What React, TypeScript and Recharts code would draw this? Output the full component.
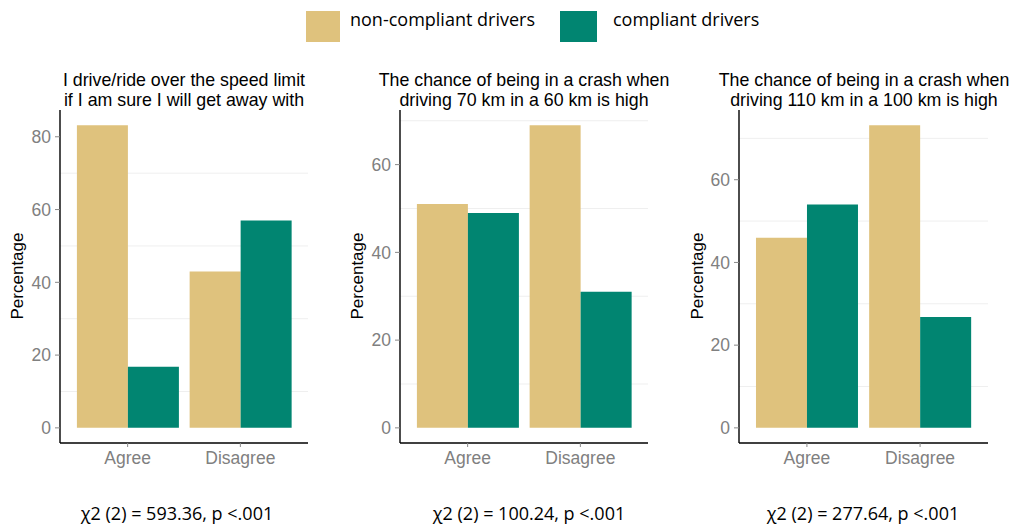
import React from 'react';
import { BarChart, Bar, XAxis, YAxis, CartesianGrid } from 'recharts';

const categories = ['Agree', 'Disagree'];

const speedLimitNonCompliant = [83.2, 43.0];
const speedLimitCompliant = [16.8, 57.0];

const crash70NonCompliant = [51.0, 69.0];
const crash70Compliant = [49.0, 31.0];

const crash110NonCompliant = [46.0, 73.2];
const crash110Compliant = [54.0, 26.8];

const yTicks1 = [0, 20, 40, 60, 80];
const yTicks2 = [0, 20, 40, 60];
const yTicks3 = [0, 20, 40, 60];
const gridValues = [10, 30, 50, 70];

const titles1 = ['I drive/ride over the speed limit', 'if I am sure I will get away with'];
const titles2 = ['The chance of being in a crash when', 'driving 70 km in a 60 km is high'];
const titles3 = ['The chance of being in a crash when', 'driving 110 km in a 100 km is high'];

const chiLabels = ['χ2 (2) = 593.36, p <.001', 'χ2 (2) = 100.24, p <.001', 'χ2 (2) = 277.64, p <.001'];

const legendLabels = ['non-compliant drivers', 'compliant drivers'];

const TAN = '#DFC27D';
const TEAL = '#018571';

const buildRows = (non: number[], comp: number[]) =>
  categories.map((category, i) => ({ category, non: non[i], comp: comp[i] }));

interface PanelProps {
  rows: { category: string; non: number; comp: number }[];
  ticks: number[];
  axisX: number;
  plotRight: number;
}

const Panel: React.FC<PanelProps> = ({ rows, ticks, axisX, plotRight }) => {
  const maxVal = Math.max(...rows.map((r) => Math.max(r.non, r.comp)));
  const domain = [-0.05 * maxVal, 1.05 * maxVal];
  const plotWidth = plotRight - axisX;
  const pad = plotWidth / 22;
  return (
    <div style={{ position: 'absolute', left: axisX - 60, top: 0 }}>
      <BarChart
        width={plotWidth + 62}
        height={524}
        data={rows}
        margin={{ top: 110, right: 2, bottom: 51, left: 0 }}
        barCategoryGap="5%"
        barGap={0}
      >
        <CartesianGrid horizontal vertical={false} horizontalValues={gridValues} stroke="#efefef" />
        <XAxis
          dataKey="category"
          height={30}
          padding={{ left: pad, right: pad }}
          axisLine={{ stroke: '#000', strokeWidth: 1.4 }}
          tickLine={{ stroke: '#888' }}
          tickSize={4}
          tickMargin={5}
          tick={{ fill: '#808080', fontSize: 17.5, fontFamily: 'Liberation Sans' }}
        />
        <YAxis
          width={60}
          type="number"
          domain={domain}
          ticks={ticks}
          allowDataOverflow
          axisLine={{ stroke: '#000', strokeWidth: 1.4 }}
          tickLine={{ stroke: '#888' }}
          tickSize={5}
          tickMargin={4}
          tick={{ fill: '#808080', fontSize: 17.5, fontFamily: 'Liberation Sans' }}
        />
        <Bar dataKey="non" fill={TAN} isAnimationActive={false} />
        <Bar dataKey="comp" fill={TEAL} isAnimationActive={false} />
      </BarChart>
    </div>
  );
};

const panels = [
  { rows: buildRows(speedLimitNonCompliant, speedLimitCompliant), ticks: yTicks1, axisX: 60, plotRight: 308, titles: titles1, titleX: 184, labelX: 23, chiX: 177 },
  { rows: buildRows(crash70NonCompliant, crash70Compliant), ticks: yTicks2, axisX: 400, plotRight: 648, titles: titles2, titleX: 524, labelX: 363, chiX: 529 },
  { rows: buildRows(crash110NonCompliant, crash110Compliant), ticks: yTicks3, axisX: 739, plotRight: 988, titles: titles3, titleX: 864, labelX: 703, chiX: 863 },
];

export default function App() {
  return (
    <div
      style={{
        position: 'absolute',
        left: 0,
        top: 0,
        width: 1011,
        height: 524,
        background: '#fff',
        overflow: 'hidden',
      }}
    >
      {panels.map((p, i) => (
        <Panel key={i} rows={p.rows} ticks={p.ticks} axisX={p.axisX} plotRight={p.plotRight} />
      ))}
      <svg
        width={1011}
        height={524}
        style={{ position: 'absolute', left: 0, top: 0, pointerEvents: 'none' }}
      >
        {/* legend */}
        <rect x={306} y={11} width={34} height={31} fill={TAN} />
        <text x={350} y={26} fontFamily="Open Sans" fontSize={18} fill="#000">
          {legendLabels[0]}
        </text>
        <rect x={560} y={11} width={37} height={31} fill={TEAL} />
        <text x={613} y={26} fontFamily="Open Sans" fontSize={18} fill="#000">
          {legendLabels[1]}
        </text>

        {panels.map((p, i) => (
          <g key={i}>
            {p.titles.map((t, j) => (
              <text
                key={j}
                x={p.titleX}
                y={86 + j * 19.5}
                textAnchor="middle"
                fontFamily="Liberation Sans"
                fontSize={17.8}
                fill="#000"
              >
                {t}
              </text>
            ))}
            <text
              x={p.labelX}
              y={276}
              transform={`rotate(-90 ${p.labelX} 276)`}
              textAnchor="middle"
              fontFamily="Liberation Sans"
              fontSize={17}
              fill="#000"
            >
              Percentage
            </text>
            <text x={p.chiX} y={520} textAnchor="middle" fontFamily="Open Sans" fontSize={18} fill="#000">
              {chiLabels[i]}
            </text>
          </g>
        ))}
      </svg>
    </div>
  );
}
